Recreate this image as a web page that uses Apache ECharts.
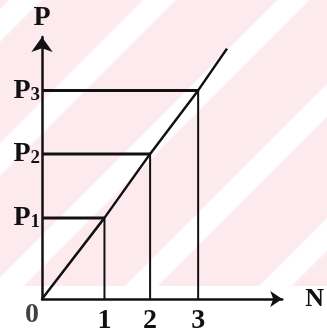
<!DOCTYPE html>
<html>
<head>
<meta charset="utf-8">
<script src="https://cdn.jsdelivr.net/npm/echarts@6/dist/echarts.min.js"></script>
<style>
  body { margin: 0; background: #fff; }
  #bg {
    position: absolute; left: 0; top: 0; width: 327px; height: 286px;
    background: repeating-linear-gradient(135deg,
      #fdeaee 0px, #fdeaee 5px, #fff 8px, #fff 28px, #fdeaee 31px, #fdeaee 94.75px);
  }
  #main { position: absolute; left: 0; top: 0; width: 327px; height: 335px; }
</style>
</head>
<body>
<div id="bg"></div>
<div id="main"></div>
<script>
// positions of N = 1, 2, 3 along the axis
const nPos = [1.3, 2.25, 3.25]
const nLabels = ['1', '2', '3']
// P1, P2, P3 heights
const pVals = [1.61, 2.88, 4.14]
const pLabels = ['1', '2', '3']
// far end of the straight line
const lineEnd = [3.85, 4.97]

const font = 'Liberation Serif'
const ink = '#111'
const big = 28

const linePts = [[0, 0]]
nPos.forEach((n, i) => linePts.push([n, pVals[i]]))
linePts.push(lineEnd)

const series = [
  {
    type: 'line',
    data: linePts,
    symbol: 'none',
    lineStyle: {color: ink, width: 2.5},
    z: 5
  },
  {
    type: 'scatter',
    data: [[0, 0]],
    symbolSize: 0,
    label: {
      show: true,
      position: 'bottom',
      offset: [-10, -3],
      formatter: '0',
      fontFamily: font,
      fontWeight: 'bold',
      fontSize: big,
      color: ink
    }
  }
]
nPos.forEach((n, i) => {
  series.push({
    type: 'line',
    data: [[0, pVals[i]], [n, pVals[i]]],
    symbol: 'none',
    lineStyle: {color: ink, width: 3}
  })
  series.push({
    type: 'line',
    data: [[n, pVals[i]], [n, 0]],
    symbol: 'none',
    lineStyle: {color: ink, width: 2}
  })
})

const chart = echarts.init(document.getElementById('main'))
chart.setOption({
  animation: false,
  backgroundColor: 'transparent',
  grid: {left: 42, right: 38, top: 37, bottom: 36},
  xAxis: {
    type: 'value',
    min: 0,
    max: 5,
    name: 'N',
    nameLocation: 'end',
    nameGap: 23,
    nameTextStyle: {fontFamily: font, fontWeight: 'bold', fontSize: 26, color: ink},
    axisLine: {
      show: true,
      symbol: ['none', 'arrow'],
      symbolSize: [12, 12],
      lineStyle: {color: ink, width: 2.5}
    },
    axisTick: {show: false},
    splitLine: {show: false},
    axisLabel: {
      customValues: nPos,
      margin: 8,
      fontFamily: font,
      fontWeight: 'bold',
      fontSize: big,
      color: ink,
      formatter: v => nLabels[nPos.indexOf(v)]
    }
  },
  yAxis: {
    type: 'value',
    min: 0,
    max: 5.2,
    name: 'P',
    nameLocation: 'end',
    nameGap: 5,
    nameTextStyle: {fontFamily: font, fontWeight: 'bold', fontSize: big, color: ink},
    axisLine: {
      show: true,
      symbol: ['none', 'arrow'],
      symbolSize: [16, 15],
      lineStyle: {color: ink, width: 2.5}
    },
    axisTick: {show: false},
    splitLine: {show: false},
    axisLabel: {
      customValues: pVals,
      margin: 2,
      color: ink,
      formatter: v => '{p|P}{s|' + pLabels[pVals.indexOf(v)] + '}',
      rich: {
        p: {fontFamily: font, fontWeight: 'bold', fontSize: big, lineHeight: 28, verticalAlign: 'top', color: ink},
        s: {fontFamily: font, fontWeight: 'bold', fontSize: 19, lineHeight: 19, verticalAlign: 'bottom', padding: [13, 0, 0, 0], color: ink}
      }
    }
  },
  series: series
})
</script>
</body>
</html>
